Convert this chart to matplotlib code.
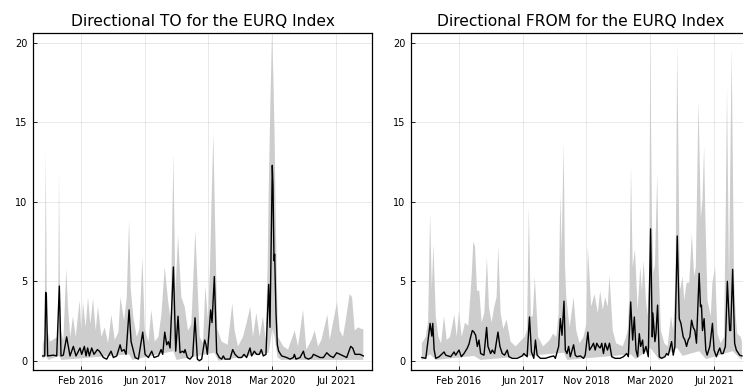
import numpy as np
import pandas as pd
import matplotlib
matplotlib.use("Agg")
import matplotlib.pyplot as plt
import matplotlib.dates as mdates

# ---------------- data (time in decimal years) ----------------
to_line_t = [2015.276, 2015.320, 2015.341, 2015.355, 2015.383, 2015.505, 2015.577, 2015.634, 2015.670, 2015.720,
             2015.791, 2015.863, 2015.935, 2015.992, 2016.078, 2016.114, 2016.171, 2016.207, 2016.242, 2016.278,
             2016.328, 2016.378, 2016.450, 2016.493, 2016.579, 2016.650, 2016.743, 2016.793, 2016.865, 2016.937,
             2016.972, 2017.022, 2017.065, 2017.130, 2017.173, 2017.259, 2017.330, 2017.423, 2017.473, 2017.545,
             2017.616, 2017.667, 2017.760, 2017.817, 2017.853, 2017.896, 2017.939, 2017.974, 2018.010, 2018.082,
             2018.132, 2018.182, 2018.225, 2018.282, 2018.311, 2018.332, 2018.382, 2018.439, 2018.497, 2018.547,
             2018.597, 2018.640, 2018.690, 2018.754, 2018.783, 2018.812, 2018.883, 2018.912, 2018.962, 2019.012,
             2019.069, 2019.119, 2019.155, 2019.191, 2019.298, 2019.356, 2019.406, 2019.477, 2019.549, 2019.599,
             2019.656, 2019.728, 2019.764, 2019.821, 2019.871, 2019.928, 2019.971, 2020.014, 2020.071, 2020.129,
             2020.157, 2020.207, 2020.222, 2020.243, 2020.257, 2020.286, 2020.315, 2020.343, 2020.408, 2020.515,
             2020.587, 2020.658, 2020.680, 2020.715, 2020.801, 2020.873, 2020.909, 2020.980, 2021.052, 2021.088,
             2021.160, 2021.231, 2021.303, 2021.375, 2021.446, 2021.517, 2021.588, 2021.732, 2021.803, 2021.889,
             2021.932, 2021.982, 2022.090, 2022.161]
to_line_v = [0.3, 0.3, 4.3, 4.1, 0.3, 0.35, 0.3, 4.7, 0.3, 0.35,
             1.5, 0.3, 0.9, 0.3, 0.8, 0.4, 0.9, 0.3, 0.8, 0.3,
             0.8, 0.4, 0.7, 0.6, 0.2, 0.1, 0.6, 0.2, 0.3, 1.0,
             0.6, 0.7, 0.4, 3.2, 1.2, 0.2, 0.1, 1.8, 0.4, 0.2,
             0.6, 0.2, 0.3, 0.7, 0.4, 1.8, 1.0, 1.2, 0.8, 5.9,
             0.6, 2.8, 0.5, 0.6, 0.5, 0.7, 0.2, 0.1, 0.3, 2.7,
             0.1, 0.0, 0.1, 1.3, 1.0, 0.4, 3.2, 2.4, 5.3, 0.5,
             0.2, 0.1, 0.3, 0.1, 0.1, 0.7, 0.4, 0.2, 0.2, 0.4,
             0.2, 0.8, 0.3, 0.6, 0.4, 0.4, 0.7, 0.3, 0.4, 4.8,
             2.1, 12.3, 11.0, 6.3, 6.7, 3.0, 1.0, 0.6, 0.3, 0.2,
             0.1, 0.2, 0.4, 0.1, 0.2, 0.6, 0.2, 0.1, 0.2, 0.4,
             0.3, 0.2, 0.2, 0.5, 0.3, 0.2, 0.5, 0.3, 0.2, 0.9,
             0.8, 0.4, 0.4, 0.3]

to_hi_t = [2015.276, 2015.319, 2015.341, 2015.369, 2015.434, 2015.541, 2015.605, 2015.627, 2015.655, 2015.720,
           2015.784, 2015.820, 2015.870, 2015.927, 2015.985, 2016.071, 2016.106, 2016.142, 2016.199, 2016.249,
           2016.300, 2016.357, 2016.414, 2016.464, 2016.536, 2016.607, 2016.679, 2016.750, 2016.822, 2016.901,
           2016.944, 2017.022, 2017.080, 2017.130, 2017.166, 2017.223, 2017.294, 2017.352, 2017.416, 2017.466,
           2017.545, 2017.609, 2017.681, 2017.760, 2017.824, 2017.896, 2017.967, 2018.024, 2018.082, 2018.125,
           2018.182, 2018.253, 2018.325, 2018.396, 2018.468, 2018.554, 2018.647, 2018.719, 2018.769, 2018.826,
           2018.869, 2018.898, 2018.940, 2018.983, 2019.026, 2019.119, 2019.248, 2019.348, 2019.398, 2019.470,
           2019.577, 2019.649, 2019.735, 2019.792, 2019.864, 2019.936, 2020.007, 2020.064, 2020.107, 2020.129,
           2020.164, 2020.200, 2020.229, 2020.257, 2020.286, 2020.329, 2020.443, 2020.544, 2020.687, 2020.758,
           2020.866, 2020.937, 2021.044, 2021.116, 2021.188, 2021.259, 2021.388, 2021.438, 2021.510, 2021.596,
           2021.653, 2021.724, 2021.775, 2021.868, 2021.918, 2021.976, 2022.047, 2022.118, 2022.161]
to_hi_v = [1.0, 1.5, 13.2, 2.0, 1.2, 1.4, 1.5, 11.8, 2.0, 1.3,
           5.8, 3.4, 1.5, 2.8, 1.5, 3.8, 1.9, 3.7, 2.1, 4.0,
           2.3, 3.9, 1.9, 3.4, 1.5, 2.1, 1.1, 2.9, 1.3, 1.8,
           4.0, 2.5, 4.0, 8.85, 4.5, 2.7, 1.5, 2.0, 6.5, 2.0,
           1.2, 3.2, 1.2, 1.5, 2.9, 5.9, 3.8, 2.5, 13.0, 4.2,
           7.9, 4.0, 3.4, 1.9, 2.3, 8.2, 1.5, 1.1, 4.7, 2.5,
           6.0, 9.5, 14.3, 8.0, 2.0, 1.2, 1.0, 3.6, 1.9, 0.9,
           1.5, 2.3, 3.4, 1.5, 3.0, 1.5, 2.8, 1.3, 6.0, 10.5,
           16.0, 20.6, 18.0, 14.0, 8.0, 1.5, 0.9, 0.7, 1.9, 0.9,
           3.2, 0.7, 1.3, 1.9, 0.9, 1.3, 2.9, 1.3, 2.4, 3.7,
           1.9, 1.5, 2.4, 4.2, 4.0, 1.9, 2.1, 2.0, 2.0]

to_lo_t = [2015.276, 2015.341, 2015.400, 2015.634, 2015.680, 2017.130, 2017.200, 2018.082, 2018.150,
           2018.962, 2019.050, 2020.129, 2020.207, 2020.257, 2020.320, 2020.400, 2022.161]
to_lo_v = [0.1, 0.3, 0.05, 0.3, 0.05, 0.4, 0.05, 0.6, 0.05,
           0.5, 0.0, 0.5, 2.0, 1.5, 0.2, 0.05, 0.05]

from_line_t = [2015.301, 2015.386, 2015.479, 2015.515, 2015.536, 2015.565, 2015.600, 2015.672, 2015.707, 2015.779,
               2015.814, 2015.864, 2015.921, 2015.993, 2016.028, 2016.099, 2016.149, 2016.206, 2016.278, 2016.313,
               2016.349, 2016.385, 2016.420, 2016.456, 2016.492, 2016.527, 2016.563, 2016.634, 2016.691, 2016.720,
               2016.777, 2016.812, 2016.862, 2016.934, 2016.976, 2017.026, 2017.076, 2017.133, 2017.169, 2017.240,
               2017.347, 2017.454, 2017.490, 2017.561, 2017.611, 2017.654, 2017.704, 2017.739, 2017.775, 2017.846,
               2017.953, 2018.060, 2018.132, 2018.167, 2018.238, 2018.274, 2018.310, 2018.353, 2018.381, 2018.417,
               2018.452, 2018.488, 2018.559, 2018.595, 2018.631, 2018.702, 2018.773, 2018.809, 2018.866, 2018.902,
               2018.951, 2018.987, 2019.023, 2019.058, 2019.094, 2019.130, 2019.165, 2019.201, 2019.237, 2019.287,
               2019.330, 2019.379, 2019.451, 2019.522, 2019.558, 2019.629, 2019.700, 2019.736, 2019.786, 2019.828,
               2019.864, 2019.900, 2019.935, 2019.971, 2020.000, 2020.042, 2020.064, 2020.114, 2020.164, 2020.213,
               2020.249, 2020.261, 2020.306, 2020.328, 2020.363, 2020.399, 2020.449, 2020.520, 2020.556, 2020.592,
               2020.663, 2020.698, 2020.734, 2020.784, 2020.827, 2020.863, 2020.912, 2020.948, 2020.984, 2021.019,
               2021.055, 2021.091, 2021.126, 2021.162, 2021.197, 2021.254, 2021.283, 2021.304, 2021.326, 2021.361,
               2021.397, 2021.426, 2021.483, 2021.540, 2021.575, 2021.625, 2021.661, 2021.697, 2021.732, 2021.768,
               2021.818, 2021.860, 2021.910, 2021.932, 2021.974, 2022.017, 2022.053, 2022.124, 2022.174]
from_line_v = [0.2, 0.15, 2.35, 1.55, 2.35, 0.7, 0.15, 0.25, 0.35, 0.55,
               0.35, 0.3, 0.25, 0.55, 0.35, 0.67, 0.25, 0.45, 0.8, 1.05,
               1.5, 1.9, 1.8, 1.6, 0.9, 1.3, 0.45, 0.35, 2.1, 0.9,
               0.45, 0.67, 0.45, 1.8, 0.9, 0.45, 0.35, 0.67, 0.25, 0.15,
               0.15, 0.3, 0.45, 0.25, 2.75, 0.55, 0.15, 1.3, 0.35, 0.15,
               0.15, 0.25, 0.3, 0.15, 0.9, 2.65, 1.6, 3.75, 0.67, 0.45,
               0.9, 0.25, 1.0, 0.35, 0.25, 0.3, 0.15, 0.35, 1.8, 0.67,
               0.9, 1.1, 0.67, 1.1, 0.9, 0.8, 1.1, 0.45, 1.1, 0.67,
               1.1, 0.25, 0.15, 0.15, 0.15, 0.25, 0.45, 0.25, 3.7, 1.3,
               2.75, 0.67, 0.25, 1.7, 0.9, 1.3, 0.45, 0.9, 0.25, 8.3,
               1.5, 3.0, 1.2, 1.7, 3.5, 0.25, 0.15, 0.25, 0.45, 0.35,
               1.2, 0.35, 0.9, 7.85, 2.65, 2.35, 1.5, 1.3, 0.9, 1.3,
               1.5, 2.55, 2.1, 1.9, 1.1, 5.5, 3.4, 3.5, 1.9, 2.65,
               0.67, 0.35, 0.9, 2.35, 0.67, 0.25, 0.55, 0.8, 0.45, 0.45,
               0.9, 5.0, 1.9, 1.9, 5.75, 1.1, 0.67, 0.35, 0.3]

from_hi_t = [2015.301, 2015.386, 2015.436, 2015.479, 2015.515, 2015.550, 2015.600, 2015.657, 2015.714, 2015.779,
             2015.836, 2015.907, 2016.000, 2016.050, 2016.099, 2016.157, 2016.228, 2016.299, 2016.370, 2016.406,
             2016.442, 2016.485, 2016.534, 2016.584, 2016.641, 2016.698, 2016.741, 2016.798, 2016.855, 2016.905,
             2016.941, 2016.991, 2017.048, 2017.119, 2017.205, 2017.312, 2017.440, 2017.511, 2017.561, 2017.597,
             2017.640, 2017.682, 2017.725, 2017.796, 2017.903, 2017.975, 2018.046, 2018.117, 2018.189, 2018.238,
             2018.274, 2018.303, 2018.345, 2018.374, 2018.402, 2018.474, 2018.559, 2018.616, 2018.688, 2018.773,
             2018.830, 2018.866, 2018.937, 2019.008, 2019.080, 2019.130, 2019.187, 2019.237, 2019.294, 2019.330,
             2019.401, 2019.472, 2019.615, 2019.686, 2019.721, 2019.757, 2019.793, 2019.828, 2019.878, 2019.935,
             2019.992, 2020.028, 2020.064, 2020.114, 2020.149, 2020.185, 2020.206, 2020.242, 2020.271, 2020.306,
             2020.356, 2020.384, 2020.434, 2020.506, 2020.577, 2020.649, 2020.698, 2020.748, 2020.784, 2020.820,
             2020.841, 2020.898, 2020.934, 2020.984, 2021.041, 2021.098, 2021.148, 2021.183, 2021.240, 2021.290,
             2021.326, 2021.361, 2021.383, 2021.433, 2021.504, 2021.540, 2021.597, 2021.647, 2021.718, 2021.789,
             2021.825, 2021.853, 2021.896, 2021.953, 2022.003, 2022.039, 2022.074, 2022.146, 2022.174]
from_hi_v = [1.1, 1.5, 2.5, 9.3, 4.5, 7.3, 2.8, 1.5, 1.1, 2.8,
             1.3, 1.5, 2.9, 1.5, 3.1, 1.5, 2.4, 2.2, 5.3, 7.5,
             7.2, 4.4, 4.4, 2.4, 3.0, 6.5, 3.4, 2.4, 3.4, 4.0,
             7.2, 3.0, 2.0, 2.6, 1.2, 0.9, 1.3, 1.5, 2.0, 9.7,
             2.8, 2.8, 5.3, 1.5, 0.9, 1.1, 1.3, 1.7, 1.5, 3.0,
             10.5, 7.0, 13.7, 6.0, 4.0, 2.1, 4.0, 1.9, 1.1, 1.5,
             2.3, 7.2, 3.4, 4.2, 3.0, 4.4, 3.2, 4.0, 3.4, 5.4,
             1.9, 1.1, 0.9, 1.5, 1.9, 4.0, 12.2, 5.9, 7.0, 3.2,
             5.9, 4.4, 6.3, 3.8, 2.8, 6.0, 20.0, 9.0, 5.5, 6.0,
             11.8, 6.0, 1.9, 1.1, 0.9, 2.8, 1.9, 5.0, 20.0, 10.0,
             4.4, 5.3, 3.8, 4.9, 4.9, 8.0, 5.3, 5.9, 16.4, 9.0,
             10.1, 13.5, 9.7, 3.8, 2.8, 4.9, 5.9, 1.7, 1.1, 1.5,
             9.1, 17.2, 5.0, 19.7, 5.3, 2.8, 1.7, 1.5, 1.2]

from_lo_t = [2015.301, 2015.479, 2015.600, 2016.420, 2016.560, 2018.353, 2018.420, 2019.786, 2019.900,
             2020.213, 2020.400, 2020.784, 2020.900, 2021.254, 2021.400, 2021.974, 2022.174]
from_lo_v = [0.05, 0.4, 0.05, 0.3, 0.05, 0.5, 0.05, 0.4, 0.1,
             0.8, 0.05, 0.8, 0.3, 0.6, 0.1, 0.6, 0.05]

tick_dates = ["2016-02-06", "2017-06-20", "2018-11-02", "2020-03-16", "2021-07-29"]
y_ticks = [0, 5, 10, 15, 20]
titles = ["Directional TO for the EURQ Index", "Directional FROM for the EURQ Index"]


def yr2num(a):
    out = []
    for y in a:
        yi = int(np.floor(y))
        s = pd.Timestamp(yi, 1, 1)
        e = pd.Timestamp(yi + 1, 1, 1)
        out.append(s + (e - s) * (y - yi))
    return mdates.date2num(pd.to_datetime(out).to_pydatetime())


fig = plt.figure(figsize=(7.43, 3.87), dpi=100)
W, H = 743.0, 387.0
ax_l = fig.add_axes([33 / W, 17 / H, 339 / W, 337 / H])
ax_r = fig.add_axes([411 / W, 17 / H, 339 / W, 337 / H])

panels = [
    (ax_l, to_line_t, to_line_v, to_hi_t, to_hi_v, to_lo_t, to_lo_v, titles[0]),
    (ax_r, from_line_t, from_line_v, from_hi_t, from_hi_v, from_lo_t, from_lo_v, titles[1]),
]

xmin, xmax = yr2num([2015.068, 2022.347])
tick_nums = mdates.date2num(pd.to_datetime(tick_dates).to_pydatetime())

for ax, lt, lv, ht, hv, lot, lov, title in panels:
    hx = yr2num(ht)
    lx = yr2num(lot)
    poly_x = np.concatenate([hx, lx[::-1]])
    poly_y = np.concatenate([hv, lov[::-1]])
    ax.fill(poly_x, poly_y, color="#cdcdcd", lw=0, zorder=2)
    ax.plot(yr2num(lt), lv, color="black", lw=1.0, zorder=3)

    ax.set_xlim(xmin, xmax)
    ax.set_ylim(-0.585, 20.63)
    ax.xaxis_date()
    ax.set_xticks(tick_nums)
    ax.xaxis.set_major_formatter(mdates.DateFormatter("%b %Y"))
    ax.set_yticks(y_ticks)
    ax.grid(True, color="black", alpha=0.1, lw=0.6, zorder=0)
    ax.tick_params(direction="in", length=3, width=0.6, labelsize=7, pad=4,
                   top=False, right=False, colors="black")
    for s in ax.spines.values():
        s.set_color("black")
        s.set_linewidth(0.9)
    ax.set_title(title, fontsize=11.2, pad=5)

fig.savefig("out.png", dpi=100)
